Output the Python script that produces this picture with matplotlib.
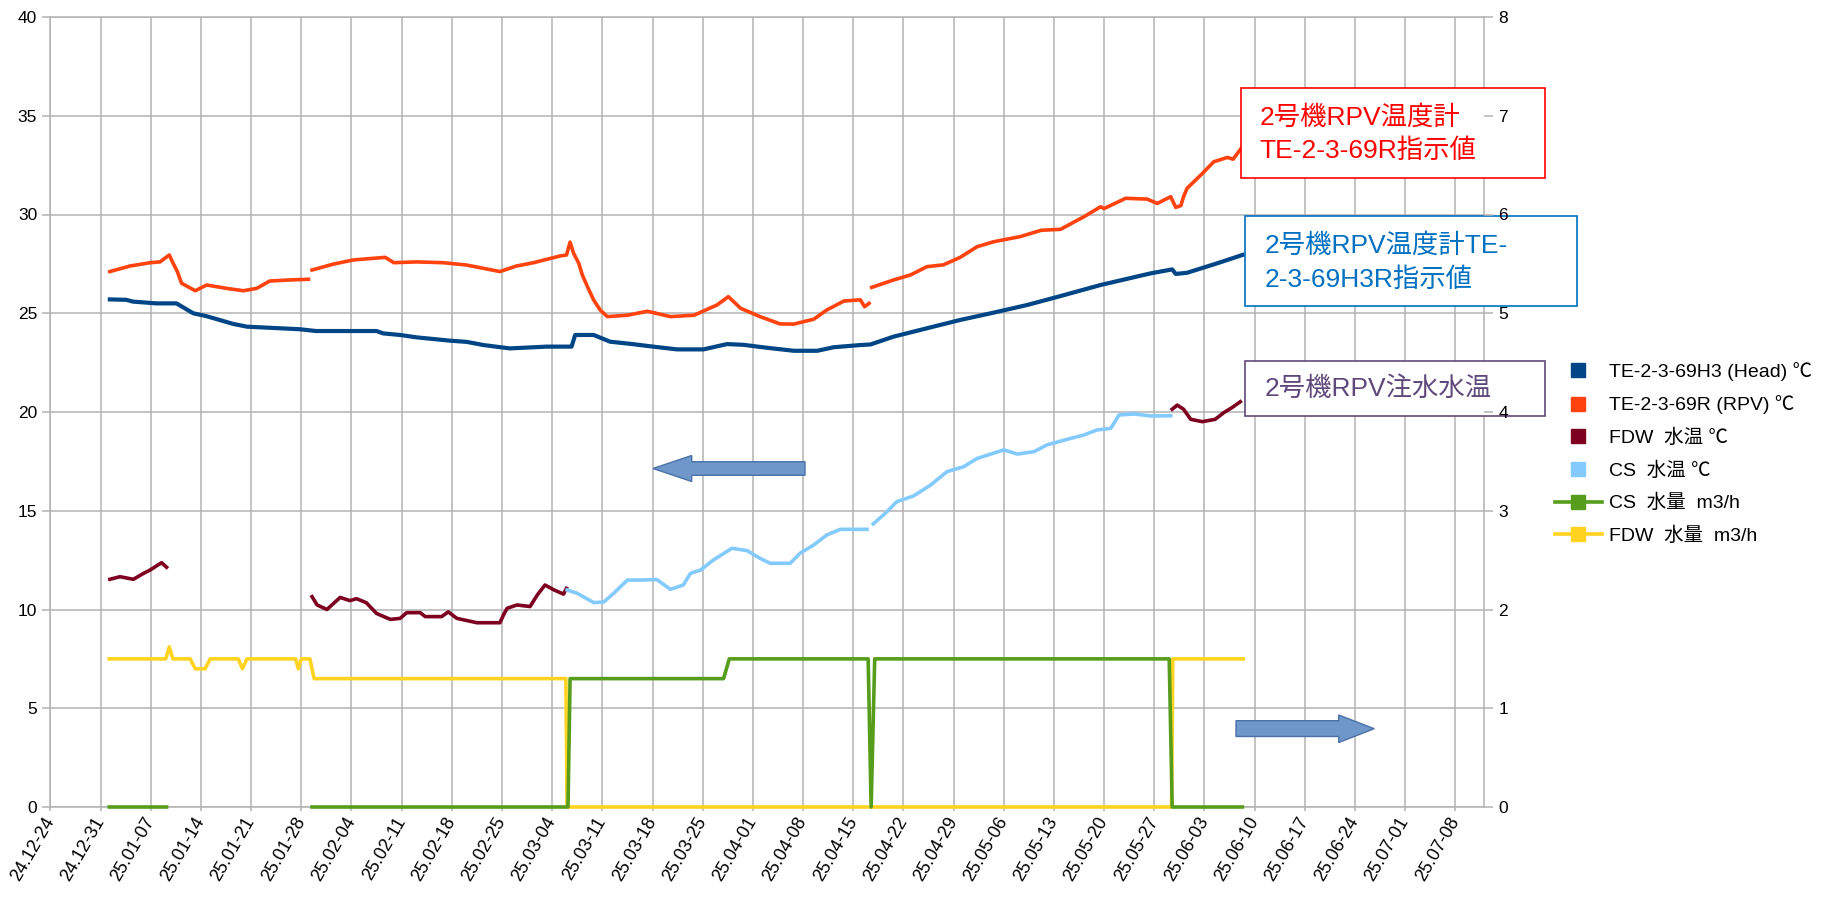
# RPV temperatures and injection flows of unit 2, Jan - Jun 2025
import numpy as np
import pandas as pd
import matplotlib as mpl
mpl.use('Agg')
import matplotlib.pyplot as plt
import matplotlib.dates as mdates
from matplotlib.lines import Line2D
from matplotlib.patches import Rectangle, Polygon

plt.rcParams['font.family'] = ['Liberation Sans', 'Noto Sans CJK JP']

nan = np.nan

# ---- data (date "MM-DD HH" in 2025) ----------------------------------
headDt = ['01-01 07', '01-03 14', '01-04 12', '01-07 19', '01-10 14', '01-12 22', '01-14 19',
          '01-18 12', '01-20 10', '01-27 19', '01-30 02', '02-07 12', '02-08 10', '02-10 19',
          '02-13 02', '02-17 19', '02-20 02', '02-22 10', '02-26 02', '03-03 05', '03-06 17',
          '03-07 05', '03-09 19', '03-12 02', '03-14 22', '03-18 02', '03-21 10', '03-25 02',
          '03-28 10', '03-30 17', '04-03 00', '04-06 17', '04-10 00', '04-12 07', '04-16 00',
          '04-17 10', '04-20 14', '04-25 07', '04-29 22', '05-04 14', '05-09 07', '05-13 22',
          '05-19 12', '05-26 12', '05-29 12', '05-30 00', '05-31 14', '06-04 19', '06-08 07']
headVal = [25.70, 25.68, 25.59, 25.50, 25.50, 25.00, 24.85,
           24.46, 24.32, 24.19, 24.10, 24.10, 23.98, 23.90,
           23.78, 23.61, 23.55, 23.39, 23.22, 23.31, 23.31,
           23.90, 23.90, 23.56, 23.45, 23.31, 23.17, 23.17,
           23.44, 23.40, 23.25, 23.10, 23.10, 23.28, 23.39,
           23.42, 23.81, 24.24, 24.66, 25.03, 25.42, 25.87,
           26.43, 27.02, 27.22, 26.99, 27.05, 27.53, 27.95]

rpvDt = ['01-01 07', '01-04 02', '01-06 22', '01-08 07', '01-09 14', '01-10 02', '01-10 17',
         '01-11 07', '01-13 05', '01-14 19', '01-17 14', '01-19 22', '01-21 19', '01-23 14',
         '01-26 00', '01-29 00', '01-29 06', '01-29 12', '02-01 12', '02-04 07', '02-08 17',
         '02-09 22', '02-13 02', '02-16 19', '02-20 02', '02-24 17', '02-27 00', '03-01 10',
         '03-05 02', '03-06 00', '03-06 12', '03-07 00', '03-07 17', '03-08 05', '03-08 22',
         '03-09 19', '03-10 17', '03-11 17', '03-14 12', '03-17 07', '03-20 12', '03-23 19',
         '03-27 00', '03-28 14', '03-30 07', '04-02 00', '04-04 19', '04-06 17', '04-09 12',
         '04-11 07', '04-13 17', '04-16 00', '04-16 14', '04-17 05', '04-17 08', '04-17 14',
         '04-20 14', '04-23 00', '04-25 07', '04-27 14', '04-29 22', '05-02 07', '05-04 14',
         '05-08 07', '05-11 05', '05-13 22', '05-17 05', '05-19 12', '05-20 00', '05-23 00',
         '05-26 00', '05-27 10', '05-29 07', '05-30 00', '05-30 17', '05-31 02', '05-31 14',
         '06-02 12', '06-04 07', '06-06 05', '06-07 00', '06-08 07']
rpvVal = [27.11, 27.39, 27.56, 27.60, 27.95, 27.56, 27.11,
          26.52, 26.14, 26.43, 26.26, 26.14, 26.26, 26.63,
          26.68, 26.72, nan, 27.19, 27.49, 27.70, 27.83,
          27.56, 27.60, 27.56, 27.44, 27.11, 27.39, 27.56,
          27.90, 27.95, 28.60, 28.03, 27.53, 26.94, 26.35,
          25.67, 25.16, 24.83, 24.90, 25.10, 24.83, 24.90,
          25.42, 25.84, 25.25, 24.83, 24.46, 24.45, 24.70,
          25.16, 25.62, 25.68, 25.33, 25.50, nan, 26.31,
          26.68, 26.94, 27.36, 27.45, 27.83, 28.37, 28.62,
          28.88, 29.20, 29.25, 29.89, 30.39, 30.30, 30.82,
          30.78, 30.56, 30.90, 30.36, 30.45, 30.90, 31.33,
          32.00, 32.67, 32.89, 32.80, 33.43]

fdwTDt = ['01-01 07', '01-02 17', '01-04 14', '01-06 00', '01-06 22', '01-08 12', '01-09 05',
          '01-20 00', '01-29 12', '01-30 05', '01-31 14', '02-02 10', '02-03 19', '02-04 17',
          '02-06 02', '02-07 12', '02-09 10', '02-10 19', '02-11 17', '02-13 14', '02-14 07',
          '02-16 14', '02-17 12', '02-18 17', '02-21 12', '02-24 17', '02-25 05', '02-25 17',
          '02-27 02', '02-28 22', '03-01 22', '03-03 00', '03-04 05', '03-05 14', '03-06 00',
          '03-06 12', '05-29 12', '05-30 05', '05-31 02', '06-01 02', '06-02 17', '06-04 12',
          '06-05 17', '06-06 22', '06-08 00']
fdwTVal = [11.53, 11.66, 11.53, 11.83, 12.00, 12.37, 12.14,
           nan, 10.65, 10.23, 10.00, 10.61, 10.45, 10.55,
           10.34, 9.80, 9.50, 9.55, 9.84, 9.84, 9.64,
           9.64, 9.88, 9.55, 9.33, 9.33, 9.72, 10.06,
           10.23, 10.15, 10.73, 11.24, 11.00, 10.78, 11.07,
           nan, 20.14, 20.35, 20.14, 19.63, 19.51, 19.63,
           19.97, 20.24, 20.52]

csTDt = ['03-06 02', '03-07 12', '03-09 19', '03-11 05', '03-12 14', '03-14 12', '03-16 07',
         '03-18 14', '03-20 12', '03-22 07', '03-23 07', '03-24 17', '03-26 12', '03-29 02',
         '03-31 05', '04-02 00', '04-03 10', '04-06 05', '04-07 14', '04-09 12', '04-11 07',
         '04-13 05', '04-16 22', '04-17 06', '04-17 19', '04-19 17', '04-21 02', '04-23 10',
         '04-25 19', '04-28 02', '04-30 10', '05-02 07', '05-06 00', '05-07 22', '05-10 05',
         '05-12 00', '05-14 19', '05-17 05', '05-19 00', '05-20 22', '05-22 02', '05-24 05',
         '05-26 12', '05-29 07']
csTVal = [10.99, 10.82, 10.35, 10.38, 10.82, 11.49, 11.49,
          11.52, 11.02, 11.24, 11.83, 12.00, 12.51, 13.10,
          12.98, 12.59, 12.34, 12.34, 12.85, 13.27, 13.77,
          14.06, 14.06, nan, 14.33, 14.95, 15.46, 15.75,
          16.30, 16.98, 17.23, 17.65, 18.08, 17.87, 17.99,
          18.33, 18.61, 18.84, 19.09, 19.17, 19.85, 19.90,
          19.80, 19.81]

csQDt = ['01-01 05', '01-09 05', '01-20 00', '01-29 12', '03-06 05', '03-06 12', '03-27 22',
         '03-28 17', '04-17 02', '04-17 12', '04-18 00', '05-29 02', '05-29 12', '06-08 07']
csQVal = [0, 0, nan, 0, 0, 1.3, 1.3,
          1.5, 1.5, 0, 1.5, 1.5, 0, 0]

fdwQDt = ['01-01 05', '01-09 02', '01-09 14', '01-10 02', '01-12 12', '01-13 05', '01-14 14',
          '01-15 07', '01-19 05', '01-19 19', '01-20 10', '01-27 05', '01-27 14', '01-28 00',
          '01-29 05', '01-29 19', '03-05 22', '03-06 02', '05-29 10', '05-29 14', '06-08 10']
fdwQVal = [1.5, 1.5, 1.62, 1.5, 1.5, 1.4, 1.4,
           1.5, 1.5, 1.4, 1.5, 1.5, 1.4, 1.5,
           1.5, 1.3, 1.3, 0, 0, 1.5, 1.5]

labels = ['TE-2-3-69H3 (Head) ℃', 'TE-2-3-69R (RPV) ℃', 'FDW  水温 ℃',
          'CS  水温 ℃', 'CS  水量  m3/h', 'FDW  水量  m3/h']
colors = ['#004586', '#ff420e', '#7e0021', '#83caff', '#579d1c', '#ffd320']

W, H = 1825, 902
gridc = '#b3b3b3'


def toDate(lst):
    return pd.to_datetime(['2025-' + s for s in lst], format='%Y-%m-%d %H')


def fx(px):
    return px / W


def fy(py):
    return 1.0 - py / H


def main():
    fig = plt.figure(figsize=(W / 100, H / 100), dpi=100)
    ax = fig.add_axes([fx(50.4), fy(807), fx(1484) - fx(50.4), fy(17) - fy(807)])
    ax2 = ax.twinx()

    # temperatures (left axis)
    ax.plot(toDate(headDt), headVal, color=colors[0], lw=3.0)
    ax.plot(toDate(rpvDt), rpvVal, color=colors[1], lw=2.6)
    ax.plot(toDate(fdwTDt), fdwTVal, color=colors[2], lw=2.6)
    ax.plot(toDate(csTDt), csTVal, color=colors[3], lw=2.6)

    # flows (right axis)
    ax2.plot(toDate(fdwQDt), fdwQVal, color=colors[5], lw=2.6, clip_on=False)
    ax2.plot(toDate(csQDt), csQVal, color=colors[4], lw=2.6, clip_on=False)

    ax.set_xlim(pd.Timestamp('2024-12-24'), pd.Timestamp('2025-07-12'))
    ax.set_ylim(0, 40)
    ax2.set_ylim(0, 8)
    ax.set_yticks(np.arange(0, 41, 5))
    ax2.set_yticks(np.arange(0, 9, 1))
    ax.set_xticks(pd.date_range('2024-12-24', '2025-07-08', freq='7D'))
    ax.xaxis.set_major_formatter(mdates.DateFormatter('%y.%m-%d'))
    plt.setp(ax.get_xticklabels(), rotation=60, ha='right', va='center', rotation_mode='anchor')

    ax.grid(True, color=gridc, lw=1.1)
    ax.set_axisbelow(True)
    for sp in ax.spines.values():
        sp.set_color(gridc)
        sp.set_linewidth(1.1)
    for sp in ax2.spines.values():
        sp.set_visible(False)
    ax.tick_params(axis='y', length=5.5, width=1.1, color=gridc, labelsize=12.5, pad=4)
    ax.tick_params(axis='x', length=3, width=1.1, color=gridc, labelsize=13, pad=5)
    ax2.tick_params(axis='y', length=6.5, width=1.1, color=gridc, labelsize=12.5, pad=4)
    ax2.yaxis.set_zorder(1.5)

    # legend
    hnds = [Line2D([], [], ls='none', marker='s', ms=10, color=c) for c in colors[:4]]
    hnds += [Line2D([], [], lw=2.6, marker='s', ms=10, color=c) for c in colors[4:]]
    fig.legend(hnds, labels, loc='upper left', bbox_to_anchor=(fx(1555), fy(362)),
               frameon=False, fontsize=14, handlelength=2.4, handletextpad=0.4,
               labelspacing=0.74, borderpad=0, borderaxespad=0)

    # annotation boxes (white, under the right-axis labels)
    boxes = [((1240.7, 88.3, 1544.8, 178.3), '#ff0000', (1259.8, 133.7), '2号機RPV温度計\nTE-2-3-69R指示値'),
             ((1244.6, 216.0, 1576.6, 306.0), '#0070c0', (1264.6, 262.5), '2号機RPV温度計TE-\n2-3-69H3R指示値'),
             ((1244.6, 360.7, 1544.8, 415.7), '#5f497a', (1264.6, 388.3), '2号機RPV注水水温')]
    for (x0, y0, x1, y1), c, (tx, ty), txt in boxes:
        rect = Rectangle((fx(x0), fy(y1)), fx(x1) - fx(x0), fy(y0) - fy(y1), transform=fig.transFigure,
                         facecolor='white', edgecolor=c, lw=1.2, zorder=1.1, clip_on=False)
        ax2.add_artist(rect)
        ax2.text(fx(tx), fy(ty), txt, transform=fig.transFigure, color=c, fontsize=19,
                 ha='left', va='center', linespacing=1.45, zorder=1.2, clip_on=False)

    # arrows pointing to the axes
    arrL = [(653, 468.5), (691.7, 455.5), (691.7, 461.7), (805, 461.7), (805, 475.3), (691.7, 475.3), (691.7, 481.5)]
    arrR = [(1236, 720.7), (1338.7, 720.7), (1338.7, 715), (1374.2, 728.7), (1338.7, 742.5), (1338.7, 736.5), (1236, 736.5)]
    for arr in (arrL, arrR):
        pg = Polygon([(fx(x), fy(y)) for x, y in arr], closed=True, transform=fig.transFigure,
                     facecolor='#6f97c9', edgecolor='#4a72a8', lw=1.0, zorder=3, clip_on=False)
        ax2.add_artist(pg)

    plt.savefig('out.png', dpi=100)


if __name__ == '__main__':
    main()
